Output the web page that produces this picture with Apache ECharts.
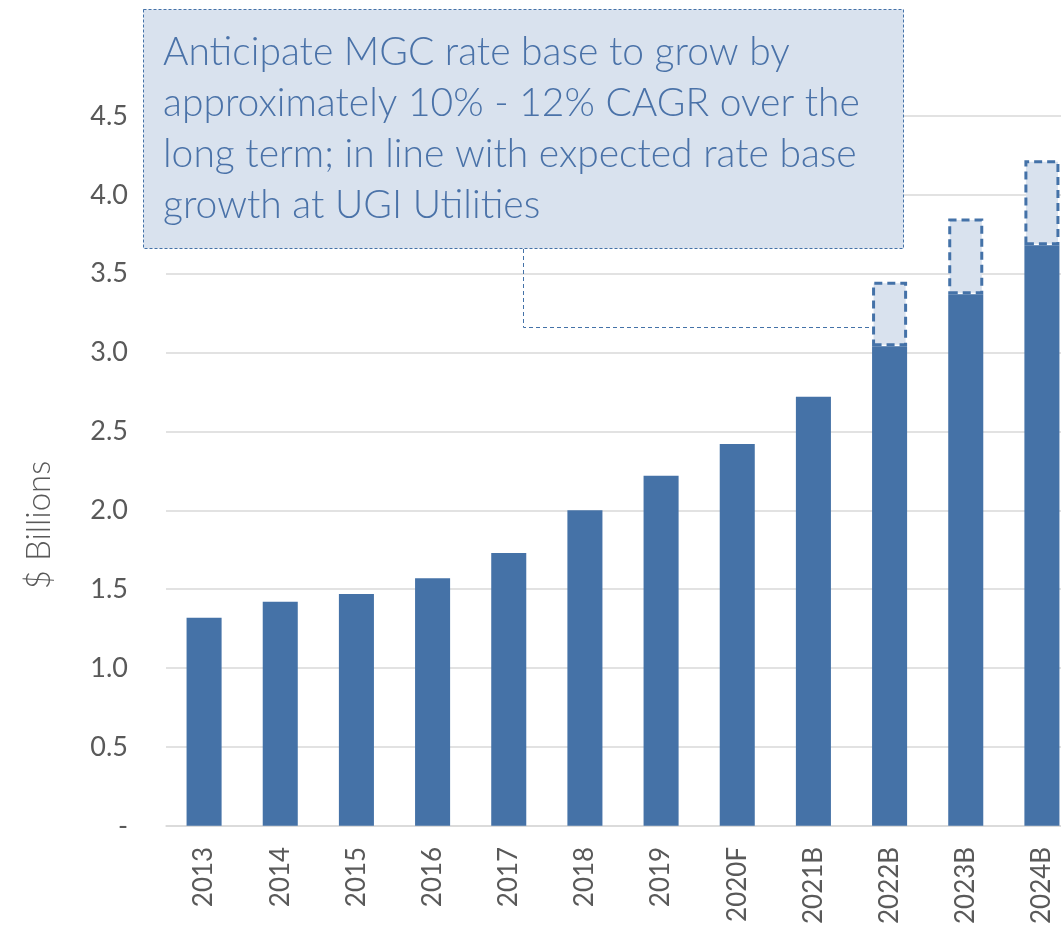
<!DOCTYPE html>
<html>
<head>
<meta charset="utf-8">
<script src="https://cdn.jsdelivr.net/npm/echarts@6/dist/echarts.min.js"></script>
<style>html,body{margin:0;padding:0;background:#fff;overflow:hidden;width:1061px;height:927px}#c{width:1080px;height:927px}</style>
</head>
<body>
<div id="c"></div>
<script>
const categories = ['2013','2014','2015','2016','2017','2018','2019','2020F','2021B','2022B','2023B','2024B'];
const rateBase = [1.32, 1.42, 1.47, 1.57, 1.73, 2.00, 2.22, 2.42, 2.72, 3.04, 3.37, 3.68];
const rangeHigh = [null, null, null, null, null, null, null, null, null, 3.45, 3.85, 4.22];
const yTicks = [0, 0.5, 1.0, 1.5, 2.0, 2.5, 3.0, 3.5, 4.0, 4.5];
const noteText = ['Anticipate MGC rate base to grow by','approximately 10% - 12% CAGR over the','long term; in line with expected rate base','growth at UGI Utilities'];

const FONT = 'Lato';
const upper = rangeHigh.map((h, i) => h == null ? null : +(h - rateBase[i]).toFixed(3));

const chart = echarts.init(document.getElementById('c'));
chart.setOption({
  animation: false,
  grid: { left: 166, right: 0, top: 116, bottom: 100, containLabel: false },
  xAxis: {
    type: 'category', data: categories,
    axisLine: { show: true, lineStyle: { color: '#D9D9D9', width: 1.5 } },
    axisTick: { show: false },
    axisLabel: { rotate: 90, margin: 21, color: '#595959', fontSize: 26, fontFamily: FONT, interval: 0 }
  },
  yAxis: {
    type: 'value', min: 0, max: 4.5, interval: 0.5,
    name: '$ Billions', nameLocation: 'middle', nameGap: 110,
    nameTextStyle: { color: '#595959', fontSize: 33, fontFamily: FONT, fontWeight: 300, padding: [0, 108, 0, 0] },
    axisLine: { show: false }, axisTick: { show: false },
    splitLine: { lineStyle: { color: '#D9D9D9', width: 1.5 } },
    axisLabel: {
      margin: 38, color: '#595959', fontSize: 27, fontFamily: FONT,
      formatter: v => (yTicks.indexOf(v) === 0 ? '-' : v.toFixed(1))
    }
  },
  series: [
    {
      type: 'bar', stack: 'rb', data: rateBase, barWidth: '46%',
      itemStyle: { color: '#4572A7' }
    },
    {
      type: 'bar', stack: 'rb', data: upper, barWidth: '46%',
      itemStyle: { color: '#D9E2EE', borderColor: '#4472A8', borderWidth: 3, borderType: [8, 5] }
    }
  ],
  graphic: [
    {
      type: 'polyline', z: 5,
      shape: { points: [[523.5, 249], [523.5, 327.5], [870, 327.5]] },
      style: { fill: null, stroke: '#4472A8', lineWidth: 1, lineDash: [4, 3] }
    },
    {
      type: 'rect', z: 10,
      shape: { x: 143.5, y: 9.5, width: 760, height: 239 },
      style: { fill: '#D9E2EE', stroke: '#4472A8', lineWidth: 1, lineDash: [3, 2] }
    },
    {
      type: 'text', z: 11, left: 163, top: 27,
      style: { text: noteText.join('\n'), fill: '#4A72A8', font: '300 39px ' + FONT, lineHeight: 51 }
    }
  ]
});
</script>
</body>
</html>
